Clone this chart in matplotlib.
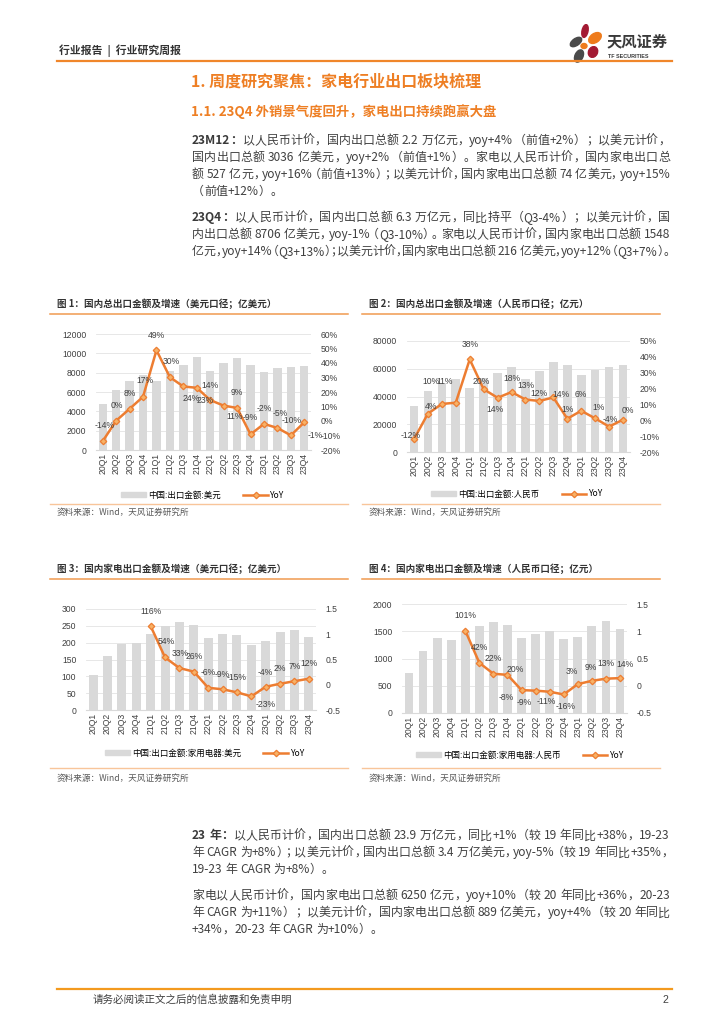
import numpy as np
import matplotlib
matplotlib.use("Agg")
import matplotlib.pyplot as plt
from matplotlib.lines import Line2D
from matplotlib.patches import Patch, Ellipse
from matplotlib.font_manager import FontProperties, findfont
from matplotlib.ft2font import FT2Font

plt.rcParams['font.family'] = ['Liberation Sans', 'Noto Sans CJK SC', 'DejaVu Sans']

# ---- data ----
quarters = ['20Q1', '20Q2', '20Q3', '20Q4', '21Q1', '21Q2', '21Q3', '21Q4',
            '22Q1', '22Q2', '22Q3', '22Q4', '23Q1', '23Q2', '23Q3', '23Q4']

# fig 1: total exports, USD (亿美元), yoy in %
export_usd = [4780, 6250, 7100, 7750, 7100, 8150, 8800, 9600,
              8200, 8980, 9550, 8800, 8040, 8520, 8600, 8706]
export_usd_yoy = [-13.9, 0.2, 8.4, 16.7, 48.8, 30.2, 23.8, 22.9,
                  14.4, 10.6, 9.0, -9.2, -2.0, -4.8, -9.9, -0.9]

# fig 2: total exports, RMB (亿元), yoy in %
export_rmb = [33300, 43700, 49700, 52600, 46100, 53600, 56600, 61600,
              52300, 58400, 64900, 62600, 55200, 58800, 61600, 62600]
export_rmb_yoy = [-11.9, 4.2, 10.3, 11.1, 38.4, 19.6, 14.2, 17.8,
                  13.1, 12.2, 14.4, 1.0, 6.0, 1.2, -4.0, 0.4]

# fig 3: home appliance exports, USD (亿美元), yoy as fraction
appl_usd = [105, 161, 197, 200, 227, 250, 262, 251,
            213, 227, 222, 193, 205, 233, 237, 216]
appl_usd_yoy = [np.nan, np.nan, np.nan, np.nan, 1.16, 0.54, 0.33, 0.26,
                -0.06, -0.09, -0.15, -0.23, -0.04, 0.02, 0.07, 0.12]

# fig 4: home appliance exports, RMB (亿元), yoy as fraction
appl_rmb = [736, 1135, 1374, 1343, 1490, 1601, 1675, 1607,
            1372, 1454, 1497, 1356, 1399, 1595, 1687, 1548]
appl_rmb_yoy = [np.nan, np.nan, np.nan, np.nan, 1.01, 0.42, 0.22, 0.20,
                -0.08, -0.09, -0.11, -0.16, 0.03, 0.09, 0.13, 0.14]

# data label offsets (pixels), like the Excel auto placement
off1 = [(2, 16), (1, 15), (0, 15), (2, 16), (0, 15), (1, 16), (8, -12), (8, -13),
        (0, 15), (11, -11), (0, 15), (0, 17), (0, 15), (3, 14), (1, 15), (11, -13)]
off2 = [(-3, 4), (3, 7), (-11, 22), (-11, 21), (0, 15), (-2, 8), (-3, -12), (0, 14),
        (0, 14), (0, 7), (8, 3), (0, 9), (0, 16), (3, 11), (1, 7), (5, 9)]
off3 = [(0, 15), (1, 16), (1, 15), (0, 15), (0, 15), (0, 15), (0, 15), (14, -8),
        (0, 14), (0, 15), (0, 15), (0, 15)]
off4 = [(0, 15), (0, 15), (0, 15), (8, 5), (-15, -7), (-11, -12), (-3, -10), (2, -12),
        (-6, 13), (-1, 13), (0, 15), (5, 14)]

W, H = 724, 1024
ORANGE = '#ED7D31'
MFC = '#F7B267'
GREY_BAR = '#D9D9D9'
TXT = '#404040'

fig = plt.figure(figsize=(7.24, 10.24), dpi=100)


def fx(x):
    return x / W


def fy(y):
    return 1 - y / H


def hline(x0, x1, y, color, lw):
    fig.add_artist(Line2D([fx(x0), fx(x1)], [fy(y), fy(y)], transform=fig.transFigure,
                          color=color, lw=lw))


def chart(box, vals, yoy, lim_l, ticks_l, lim_r, ticks_r, tick_fmt, lab_fmt, offs,
          title, legend_name, tbox, legend_c):
    l, r, t, b = box
    ax = fig.add_axes([fx(l), fy(b), fx(r) - fx(l), fy(t) - fy(b)])
    x = np.arange(len(quarters))
    ax.bar(x, vals, width=0.62, color=GREY_BAR, zorder=2)
    ax.set_xlim(-0.5, len(quarters) - 0.5)
    ax.set_ylim(*lim_l)
    ax.set_yticks(ticks_l)
    ax.set_yticklabels([f'{v:g}' for v in ticks_l])
    ax.yaxis.grid(True, color='#E3E3E3', lw=0.6, zorder=0)
    ax.set_axisbelow(True)
    for s in ['top', 'left', 'right']:
        ax.spines[s].set_visible(False)
    ax.spines['bottom'].set_color(GREY_BAR)
    ax.set_xticks(x)
    ax.set_xticklabels(quarters, rotation=90)
    ax.tick_params(length=0, labelsize=6.2, colors=TXT)
    ax.tick_params(axis='x', pad=2)
    ax.tick_params(axis='y', pad=7)

    ax2 = ax.twinx()
    ax2.set_ylim(*lim_r)
    ax2.set_yticks(ticks_r)
    ax2.set_yticklabels([tick_fmt(v) for v in ticks_r])
    ax2.tick_params(length=0, labelsize=6.2, colors=TXT, pad=7)
    for s in ax2.spines.values():
        s.set_visible(False)
    ax2.plot(x, yoy, color=ORANGE, lw=1.8, marker='D', ms=3.3,
             mfc=MFC, mec=ORANGE, mew=0.9, zorder=3)
    k = 0
    for i, v in enumerate(yoy):
        if np.isnan(v):
            continue
        ax2.annotate(lab_fmt(v), (i, v), xytext=offs[k], textcoords='offset pixels',
                     ha='center', va='center', fontsize=6.2, color=TXT)
        k += 1

    tx, ty, lx0, lx1, ly_top, ly_bot, sy = tbox
    fig.text(fx(tx), fy(ty), title, fontsize=6.9, fontweight='bold', color='#333333',
             family='Noto Sans CJK SC', va='center', ha='left')
    hline(lx0, lx1, ly_top, '#F09A50', 1.1)
    hline(lx0, lx1, ly_bot, '#F8C59A', 1.0)
    fig.text(fx(tx), fy(sy), '资料来源：Wind，天风证券研究所', fontsize=6.2, color='#595959',
             family='Noto Sans CJK SC', va='center', ha='left')
    handles = [Patch(color=GREY_BAR),
               Line2D([], [], color=ORANGE, lw=1.8, marker='D', ms=3.3,
                      mfc=MFC, mec=ORANGE, mew=0.9)]
    fig.legend(handles, [legend_name, 'YoY'], loc='center', ncol=2, frameon=False,
               bbox_to_anchor=(fx(legend_c[0]), fy(legend_c[1])),
               handlelength=2.9, handleheight=0.5, handletextpad=0.3, columnspacing=2.6,
               prop={'family': 'Noto Sans CJK SC', 'size': 6.1})


pct = lambda v: f'{v:g}%'
pct100 = lambda v: f'{round(v * 100):d}%'
num = lambda v: f'{v:g}'
pct_lab = lambda v: f'{round(v):d}%'

chart((96, 311, 334, 450), export_usd, export_usd_yoy, (0, 12000), range(0, 12001, 2000),
      (-20, 60), range(-20, 61, 10), pct, pct_lab, off1,
      '图 1：国内总出口金额及增速（美元口径；亿美元）', '中国:出口金额:美元',
      (57, 304, 50, 348, 313.5, 503.5, 512.5), (203, 495))
chart((407, 630, 341, 452), export_rmb, export_rmb_yoy, (0, 80000), range(0, 80001, 20000),
      (-20, 50), range(-20, 51, 10), pct, pct_lab, off2,
      '图 2：国内总出口金额及增速（人民币口径；亿元）', '中国:出口金额:人民币',
      (369, 304, 362, 660, 313.5, 503.5, 512.5), (517, 494))
chart((86, 316, 609, 710), appl_usd, appl_usd_yoy, (0, 300), range(0, 301, 50),
      (-0.5, 1.5), [-0.5, 0, 0.5, 1, 1.5], num, pct100, off3,
      '图 3：国内家电出口金额及增速（美元口径；亿美元）', '中国:出口金额:家用电器:美元',
      (57, 569, 50, 348, 579, 768, 778), (205, 753))
chart((402, 627, 604, 713), appl_rmb, appl_rmb_yoy, (0, 2000), range(0, 2001, 500),
      (-0.5, 1.5), [-0.5, 0, 0.5, 1, 1.5], num, pct100, off4,
      '图 4：国内家电出口金额及增速（人民币口径；亿元）', '中国:出口金额:家用电器:人民币',
      (369, 569, 362, 660, 579, 768, 778), (520, 755))

# ---- page header ----
fig.text(fx(59), fy(50.5), '行业报告  |  行业研究周报', fontsize=7.8, fontweight='bold',
         color='#333333', family='Noto Sans CJK SC', va='center', ha='left')
hline(57, 672, 61, '#F0862A', 1.6)
fig.text(fx(607), fy(41), '天风证券', fontsize=11, fontweight='bold', color='#3A3A3A',
         family='Noto Sans CJK SC', va='center', ha='left')
fig.text(fx(608), fy(56), 'TF SECURITIES', fontsize=3.9, fontweight='bold', color='#3A3A3A',
         va='center', ha='left')

lax = fig.add_axes([fx(566), fy(64), fx(40), 40 / H])
lax.set_xlim(566, 606)
lax.set_ylim(64, 24)
lax.axis('off')
for (cx, cy, w, h, a, c) in [(576, 42, 13, 7, -35, '#4A4A4A'), (585, 31, 6, 13, 12, '#A31A33'),
                             (595, 38, 14, 9, -35, '#EE7B1C'), (584, 46, 6, 5, 0, '#EE7B1C'),
                             (593, 52, 9, 11, 25, '#A31A33'), (579, 56, 8, 13, 25, '#4A4A4A')]:
    lax.add_patch(Ellipse((cx, cy), w, h, angle=a, color=c))

fig.text(fx(191), fy(81), '1. 周度研究聚焦：家电行业出口板块梳理', fontsize=11.5,
         fontweight='bold', color='#EE7F24', family='Noto Sans CJK SC', va='center', ha='left')
fig.text(fx(191), fy(112), '1.1. 23Q4 外销景气度回升，家电出口持续跑赢大盘', fontsize=9.6,
         fontweight='bold', color='#EE7F24', family='Noto Sans CJK SC', va='center', ha='left')

# ---- body paragraphs, justified token by token ----
PSIZE = 8.6
EM = PSIZE * 100 / 72
TXT_L, TXT_R = 192, 670
OPEN_P = '（'
CLOSE_P = '，；。）：'
fonts = {}
for wgt in ('normal', 'bold'):
    f = FT2Font(findfont(FontProperties(family='Noto Sans CJK SC', weight=wgt)))
    f.set_size(PSIZE, 100)
    fonts[wgt] = f


def tokens(segs):
    # ascii runs stay together, every other char is its own token
    out = []
    for s, w in segs:
        for c in s:
            if c.isascii() and c != ' ' and out and out[-1][1] == w and out[-1][0][-1].isascii() \
                    and out[-1][0][-1] != ' ':
                out[-1] = (out[-1][0] + c, w)
            else:
                out.append((c, w))
    return out


def para_line(yc, segs, justify):
    toks = tokens(segs)
    advs = [sum(fonts[w].load_char(ord(c)).linearHoriAdvance / 65536 for c in t) for t, w in toks]
    shift = [0.0] * len(toks)
    avail = TXT_R - TXT_L
    excess = sum(advs) - avail
    if excess > 0:
        # squeeze full-width punctuation first, like a word processor does
        pidx = [i for i, (t, _) in enumerate(toks) if t in OPEN_P + CLOSE_P]
        if pidx:
            red = min(excess / len(pidx), 0.45 * EM)
            for i in pidx:
                advs[i] -= red
                if toks[i][0] in OPEN_P:
                    shift[i] = -red
    total = sum(advs)
    gap = 0
    if justify or total > avail:
        gap = (avail - total) / (len(toks) - 1)
    x = TXT_L
    yb = yc + 0.36 * EM
    for (t, w), a, s in zip(toks, advs, shift):
        if t != ' ':
            fig.text(fx(x + s), fy(yb), t, fontsize=PSIZE, fontweight=w,
                     family='Noto Sans CJK SC', color='#3A3A3A' if w == 'bold' else TXT,
                     va='baseline', ha='left')
        x += a + gap


paragraphs = [
    ([140, 157, 174, 191], [
        [('23M12：', 'bold'), ('以人民币计价，国内出口总额 2.2 万亿元，yoy+4%（前值+2%）；以美元计价，', 'normal')],
        [('国内出口总额 3036 亿美元，yoy+2%（前值+1%）。家电以人民币计价，国内家电出口总', 'normal')],
        [('额 527 亿元，yoy+16%（前值+13%）；以美元计价，国内家电出口总额 74 亿美元，yoy+15%', 'normal')],
        [('（前值+12%）。', 'normal')]]),
    ([217, 234, 251], [
        [('23Q4：', 'bold'), ('以人民币计价，国内出口总额 6.3 万亿元，同比持平（Q3-4%）；以美元计价，国', 'normal')],
        [('内出口总额 8706 亿美元，yoy-1%（Q3-10%）。家电以人民币计价，国内家电出口总额 1548', 'normal')],
        [('亿元，yoy+14%（Q3+13%）；以美元计价，国内家电出口总额 216 亿美元，yoy+12%（Q3+7%）。', 'normal')]]),
    ([835, 852, 869], [
        [('23 年：', 'bold'), ('以人民币计价，国内出口总额 23.9 万亿元，同比+1%（较 19 年同比+38%，19-23', 'normal')],
        [('年 CAGR 为+8%）；以美元计价，国内出口总额 3.4 万亿美元，yoy-5%（较 19 年同比+35%，', 'normal')],
        [('19-23 年 CAGR 为+8%）。', 'normal')]]),
    ([895, 912, 929], [
        [('家电以人民币计价，国内家电出口总额 6250 亿元，yoy+10%（较 20 年同比+36%，20-23', 'normal')],
        [('年 CAGR 为+11%）；以美元计价，国内家电出口总额 889 亿美元，yoy+4%（较 20 年同比', 'normal')],
        [('+34%，20-23 年 CAGR 为+10%）。', 'normal')]]),
]
for ys, lines in paragraphs:
    for i, (y, segs) in enumerate(zip(ys, lines)):
        para_line(y, segs, i < len(lines) - 1)

# ---- footer ----
hline(57, 672, 988.5, '#F39A1E', 1.6)
fig.text(fx(93), fy(1000), '请务必阅读正文之后的信息披露和免责申明', fontsize=7.6, color=TXT,
         family='Noto Sans CJK SC', va='center', ha='left')
fig.text(fx(668), fy(1000), '2', fontsize=7.6, color=TXT, va='center', ha='right')

fig.savefig('out.png', dpi=100)
